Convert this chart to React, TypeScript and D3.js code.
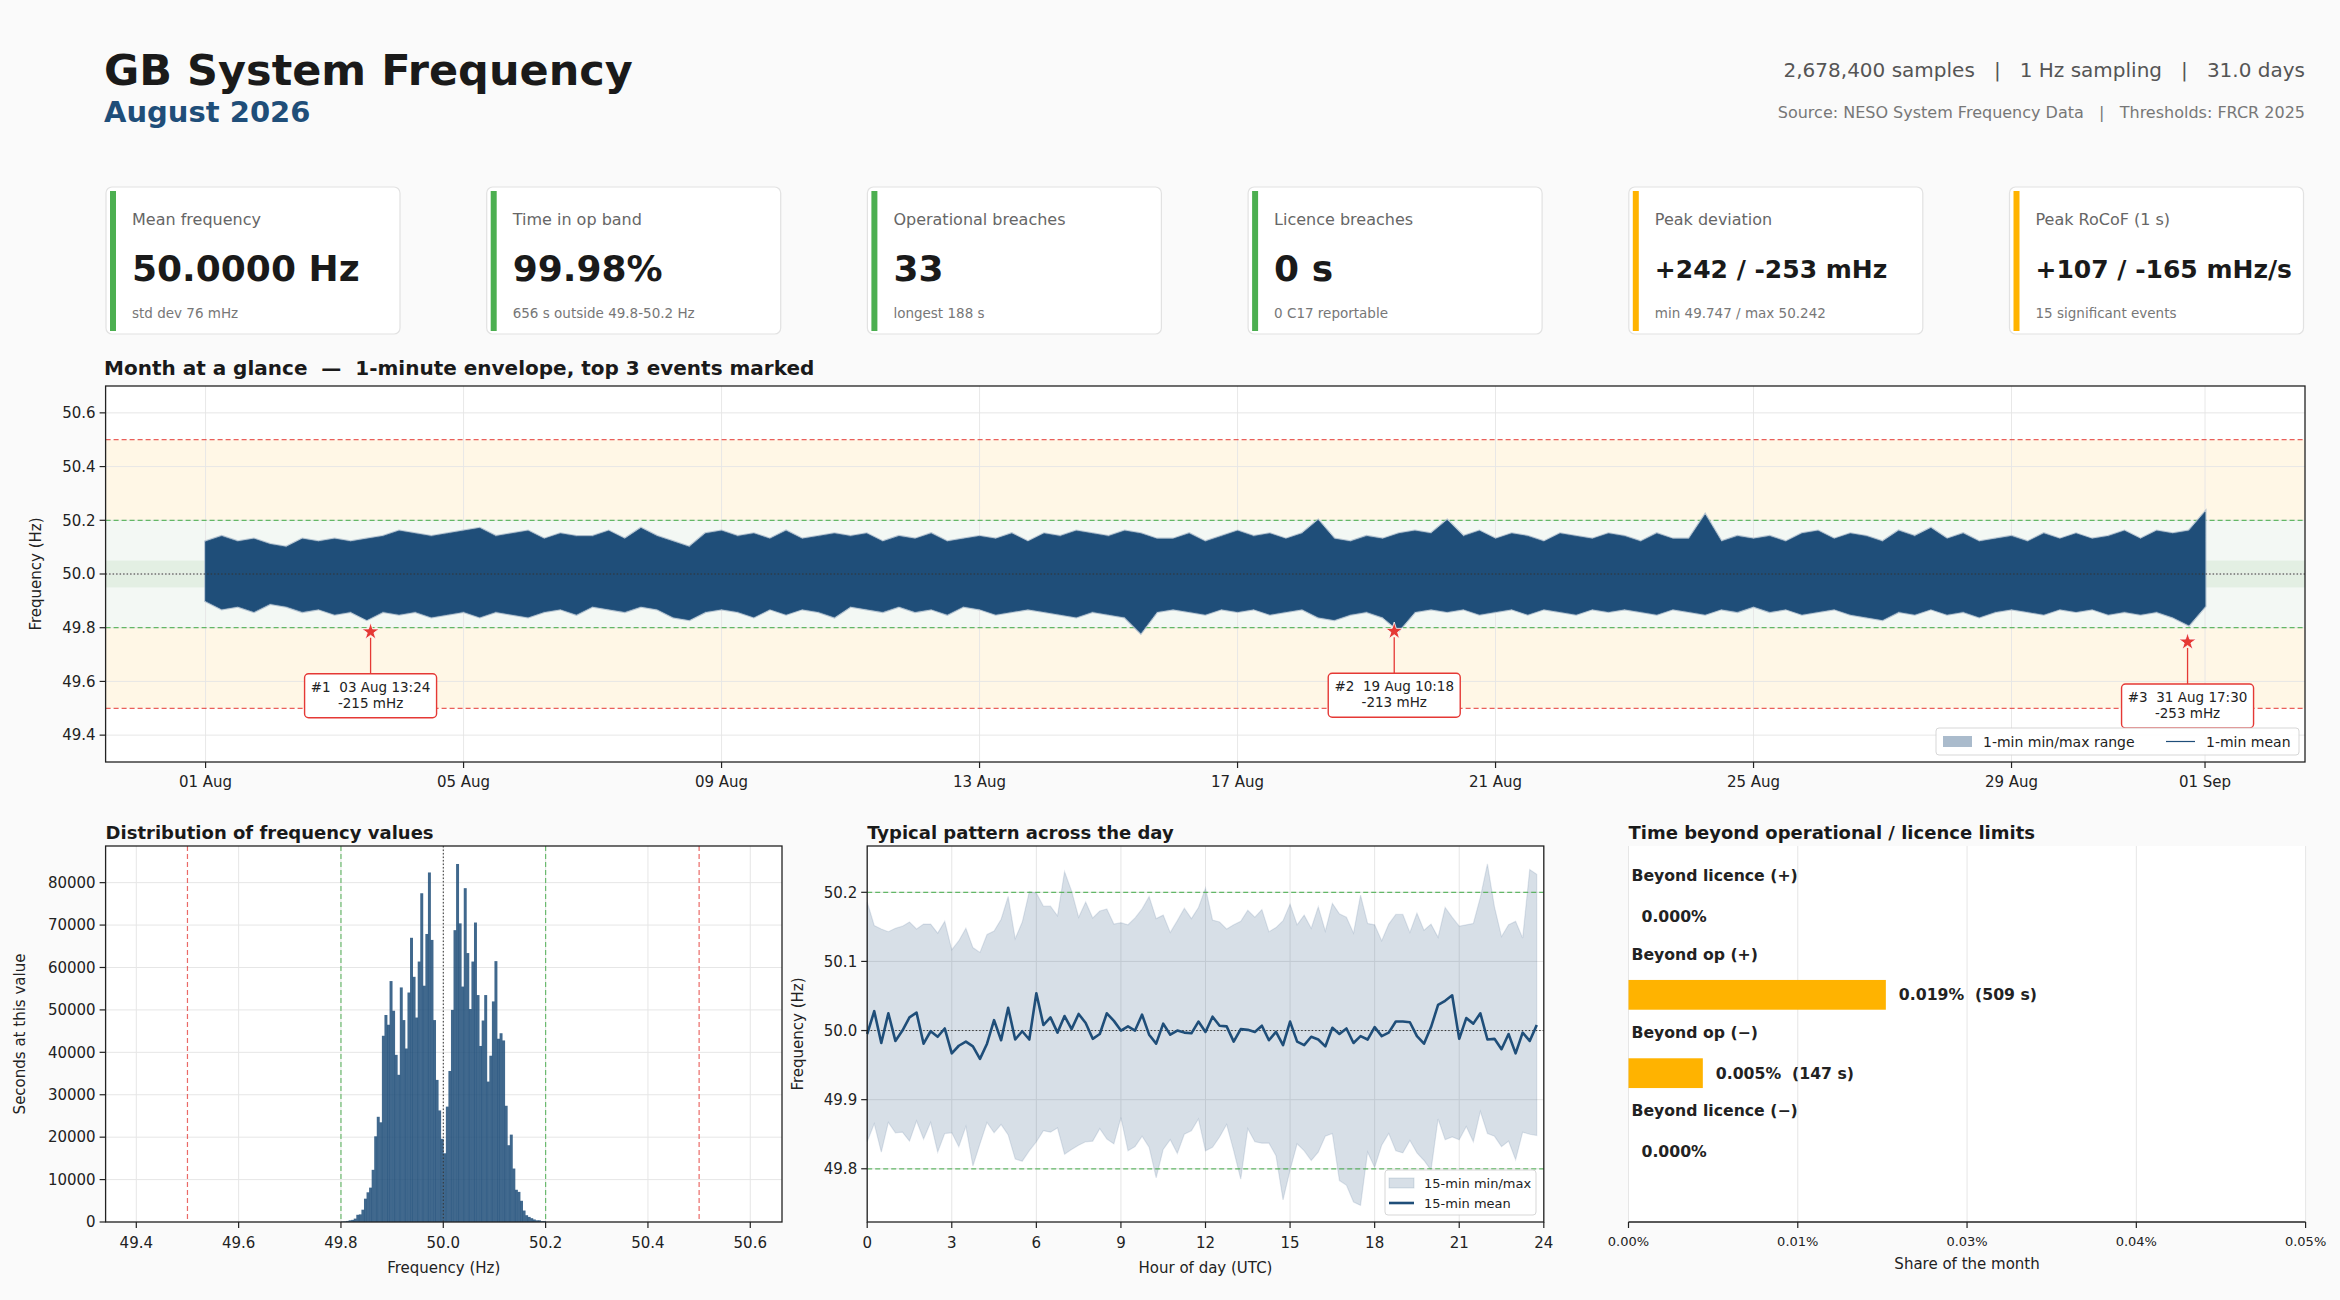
import React from "react";
import * as d3 from "d3";

const W = 2340;
const H = 1300;
const FONT = "DejaVu Sans, sans-serif";
const NAVY = "#1f4e79";
const RED = "#e53935";
const GREEN = "#4caf50";
const AMBER = "#ffb300";
const INK = "#222";
const GRID = "#e6e6e6";

// header
const titleText = "GB System Frequency";
const subtitleText = "August 2026";
const statsParts = ["2,678,400 samples", "1 Hz sampling", "31.0 days"];
const sourceParts = ["Source: NESO System Frequency Data", "Thresholds: FRCR 2025"];

// KPI cards
const kpiLabels = ["Mean frequency", "Time in op band", "Operational breaches", "Licence breaches", "Peak deviation", "Peak RoCoF (1 s)"];
const kpiValues = ["50.0000 Hz", "99.98%", "33", "0 s", "+242 / -253 mHz", "+107 / -165 mHz/s"];
const kpiSubs = ["std dev 76 mHz", "656 s outside 49.8-50.2 Hz", "longest 188 s", "0 C17 reportable", "min 49.747 / max 50.242", "15 significant events"];
const kpiStatus = ["ok", "ok", "ok", "ok", "warn", "warn"];

// month overview: 6-hourly envelope of the 1-min mean (Hz), from 01 Aug 00:00 to 01 Sep 00:00
const envHi = [
  50.12, 50.14, 50.12, 50.13, 50.11, 50.10, 50.13, 50.12, 50.13, 50.12, 50.13, 50.14,
  50.16, 50.15, 50.14, 50.15, 50.16, 50.17, 50.14, 50.15, 50.16, 50.13, 50.15, 50.14,
  50.14, 50.16, 50.13, 50.17, 50.14, 50.12, 50.10, 50.15, 50.16, 50.14, 50.15, 50.13,
  50.16, 50.13, 50.14, 50.15, 50.14, 50.15, 50.12, 50.14, 50.13, 50.15, 50.12, 50.13,
  50.14, 50.13, 50.15, 50.12, 50.15, 50.14, 50.16, 50.15, 50.14, 50.16, 50.15, 50.13,
  50.13, 50.15, 50.12, 50.14, 50.16, 50.14, 50.15, 50.13, 50.15, 50.20, 50.13, 50.12,
  50.14, 50.13, 50.15, 50.16, 50.15, 50.20, 50.14, 50.16, 50.13, 50.15, 50.14, 50.12,
  50.15, 50.14, 50.13, 50.15, 50.14, 50.12, 50.15, 50.13, 50.13, 50.22, 50.12, 50.14,
  50.13, 50.14, 50.12, 50.15, 50.16, 50.13, 50.15, 50.14, 50.12, 50.16, 50.14, 50.17,
  50.13, 50.15, 50.12, 50.13, 50.14, 50.12, 50.15, 50.13, 50.15, 50.13, 50.14, 50.16,
  50.13, 50.16, 50.15, 50.16, 50.23,
];
const envLo = [
  49.90, 49.87, 49.88, 49.86, 49.89, 49.88, 49.86, 49.87, 49.85, 49.86, 49.83, 49.86,
  49.85, 49.86, 49.84, 49.85, 49.86, 49.84, 49.86, 49.85, 49.84, 49.86, 49.87, 49.85,
  49.88, 49.87, 49.86, 49.88, 49.87, 49.84, 49.83, 49.86, 49.87, 49.86, 49.84, 49.87,
  49.85, 49.87, 49.86, 49.84, 49.88, 49.87, 49.86, 49.88, 49.86, 49.87, 49.85, 49.88,
  49.87, 49.85, 49.86, 49.87, 49.86, 49.85, 49.84, 49.86, 49.85, 49.84, 49.78, 49.86,
  49.87, 49.86, 49.85, 49.87, 49.86, 49.87, 49.85, 49.86, 49.87, 49.84, 49.83, 49.85,
  49.86, 49.84, 49.79, 49.86, 49.87, 49.86, 49.87, 49.85, 49.86, 49.87, 49.85, 49.87,
  49.86, 49.85, 49.87, 49.86, 49.87, 49.86, 49.85, 49.87, 49.86, 49.85, 49.87, 49.86,
  49.88, 49.86, 49.87, 49.85, 49.86, 49.87, 49.85, 49.84, 49.83, 49.86, 49.85, 49.87,
  49.85, 49.86, 49.84, 49.86, 49.87, 49.86, 49.85, 49.87, 49.86, 49.87, 49.85, 49.86,
  49.85, 49.86, 49.84, 49.81, 49.88,
];
const envStepDays = 0.25;
const xTickDays = [0, 4, 8, 12, 16, 20, 24, 28, 31];
const mainYTicks = [49.4, 49.6, 49.8, 50.0, 50.2, 50.4, 50.6];

// top events
const eventTimes = ["2026-08-03T13:24", "2026-08-19T10:18", "2026-08-31T17:30"];
const eventDevs = [-215, -213, -253];

// histogram: 5 mHz bins from 49.800 Hz
const histStart = 49.8;
const histWidth = 0.005;
const histCounts = [
  100, 150, 250, 400, 500, 800, 1700, 1800, 2900, 5500,
  7000, 8100, 12300, 20200, 24800, 23500, 43900, 48800, 46500, 56800,
  49800, 39400, 34700, 55300, 47600, 40900, 54100, 67000, 57800, 48200,
  61400, 77500, 55700, 67900, 82400, 66500, 47600, 33500, 26300, 19600,
  16200, 27200, 35600, 50000, 68800, 84400, 70400, 55500, 78700, 63400,
  50200, 61400, 70600, 53500, 41500, 47500, 53500, 33100, 39200, 52000,
  61500, 43200, 44500, 42800, 27400, 18100, 20600, 12600, 7600, 7100,
  5000, 2700, 1600, 1200, 900, 600, 400, 400, 200, 200,
];
const histXTicks = [49.4, 49.6, 49.8, 50.0, 50.2, 50.4, 50.6];
const histYTicks = [0, 10000, 20000, 30000, 40000, 50000, 60000, 70000, 80000];

// typical day: 15-min bins
const dayMean = [
  49.995, 50.028, 49.982, 50.025, 49.985, 50.0, 50.019, 50.026, 49.981, 49.999,
  49.991, 50.003, 49.967, 49.978, 49.984, 49.977, 49.959, 49.981, 50.015, 49.986,
  50.033, 49.987, 49.999, 49.987, 50.054, 50.008, 50.019, 49.997, 50.021, 50.002,
  50.024, 50.011, 49.988, 49.995, 50.025, 50.014, 50.0, 50.006, 50.0, 50.023,
  49.994, 49.981, 50.01, 49.994, 50.0, 49.997, 49.996, 50.013, 49.998, 50.02,
  50.007, 50.006, 49.984, 50.002, 50.001, 49.998, 50.007, 49.986, 49.998, 49.979,
  50.013, 49.984, 49.979, 49.991, 49.987, 49.977, 50.004, 49.995, 50.003, 49.982,
  49.992, 49.987, 50.005, 49.992, 49.997, 50.013, 50.013, 50.012, 49.992, 49.981,
  50.005, 50.037, 50.043, 50.051, 49.988, 50.018, 50.01, 50.025, 49.987, 49.988,
  49.973, 49.995, 49.967, 49.997, 49.985, 50.008,
];
const dayMax = [
  50.186, 50.152, 50.147, 50.143, 50.148, 50.151, 50.157, 50.147, 50.154, 50.154,
  50.141, 50.158, 50.117, 50.13, 50.148, 50.12, 50.113, 50.139, 50.144, 50.161,
  50.194, 50.133, 50.157, 50.201, 50.199, 50.18, 50.18, 50.166, 50.23, 50.202,
  50.164, 50.186, 50.163, 50.173, 50.176, 50.154, 50.156, 50.153, 50.163, 50.176,
  50.194, 50.162, 50.167, 50.142, 50.159, 50.177, 50.162, 50.178, 50.206, 50.16,
  50.157, 50.147, 50.153, 50.158, 50.174, 50.164, 50.175, 50.143, 50.149, 50.159,
  50.183, 50.153, 50.167, 50.148, 50.179, 50.144, 50.184, 50.169, 50.164, 50.141,
  50.196, 50.155, 50.153, 50.13, 50.154, 50.168, 50.168, 50.142, 50.17, 50.145,
  50.154, 50.135, 50.178, 50.164, 50.151, 50.153, 50.155, 50.193, 50.241, 50.179,
  50.136, 50.153, 50.158, 50.134, 50.233, 50.226,
];
const dayMin = [
  49.839, 49.865, 49.824, 49.867, 49.852, 49.853, 49.84, 49.869, 49.843, 49.867,
  49.824, 49.851, 49.852, 49.832, 49.861, 49.804, 49.836, 49.867, 49.852, 49.864,
  49.849, 49.814, 49.811, 49.826, 49.839, 49.855, 49.853, 49.859, 49.821, 49.828,
  49.834, 49.839, 49.84, 49.858, 49.843, 49.836, 49.874, 49.826, 49.832, 49.847,
  49.831, 49.787, 49.828, 49.842, 49.822, 49.85, 49.855, 49.872, 49.826, 49.831,
  49.846, 49.864, 49.826, 49.785, 49.858, 49.839, 49.837, 49.837, 49.819, 49.755,
  49.798, 49.836, 49.826, 49.812, 49.824, 49.847, 49.851, 49.783, 49.776, 49.752,
  49.747, 49.824, 49.802, 49.834, 49.851, 49.826, 49.823, 49.841, 49.823, 49.812,
  49.798, 49.872, 49.842, 49.846, 49.842, 49.861, 49.839, 49.883, 49.851, 49.847,
  49.832, 49.84, 49.813, 49.853, 49.85, 49.848,
];
const dayXTicks = [0, 3, 6, 9, 12, 15, 18, 21, 24];
const dayYTicks = [49.8, 49.9, 50.0, 50.1, 50.2];

// time beyond limits
const limitCats = ["Beyond licence (+)", "Beyond op (+)", "Beyond op (\u2212)", "Beyond licence (\u2212)"];
const limitSeconds = [0, 509, 147, 0];
const totalSeconds = 2678400;
const limitXTicks = [0, 0.0125, 0.025, 0.0375, 0.05];

const txt = (size: number, weight = "normal", fill = INK) => ({
  fontFamily: FONT,
  fontSize: size,
  fontWeight: weight as any,
  fill,
});
const pre = { whiteSpace: "pre" as const };

function Header() {
  const sep = "   |   ";
  return (
    <g>
      <text x={104} y={85} {...txt(43, "bold", "#1a1a1a")}>{titleText}</text>
      <text x={104} y={122} {...txt(29, "bold", NAVY)}>{subtitleText}</text>
      <text x={2305} y={77} textAnchor="end" style={pre} {...txt(20, "normal", "#555")}>
        {statsParts.join(sep)}
      </text>
      <text x={2305} y={118} textAnchor="end" style={pre} {...txt(16, "normal", "#777")}>
        {sourceParts.join(sep)}
      </text>
    </g>
  );
}

function KpiCards() {
  const cardW = 294;
  const step = 380.7;
  return (
    <g>
      {kpiLabels.map((lab, i) => {
        const x0 = 106 + i * step;
        const col = kpiStatus[i] === "ok" ? GREEN : AMBER;
        const v = kpiValues[i];
        const long = v.length > 10;
        return (
          <g key={lab}>
            <rect x={x0} y={187} width={cardW} height={147} rx={6} fill="#fff" stroke="#e2e2e2" strokeWidth={1.2} />
            <rect x={x0 + 4} y={191} width={6} height={140} fill={col} />
            <text x={x0 + 26} y={225} {...txt(16, "normal", "#666")}>{lab}</text>
            <text x={x0 + 26} y={long ? 278 : 281} {...txt(long ? 25 : 36, "bold", "#1a1a1a")}>{v}</text>
            <text x={x0 + 26} y={318} {...txt(13.5, "normal", "#777")}>{kpiSubs[i]}</text>
          </g>
        );
      })}
    </g>
  );
}

function MainPlot() {
  const L = 105.6, R = 2305, T = 386, B = 762;
  const x = d3.scaleLinear().domain([-1.55, 32.55]).range([L, R]);
  const y = d3.scaleLinear().domain([49.3, 50.7]).range([B, T]);
  const base = Date.UTC(2026, 7, 1);
  const fmtTick = d3.utcFormat("%d %b");
  const fmtEvent = d3.utcFormat("%d %b %H:%M");
  const parse = d3.utcParse("%Y-%m-%dT%H:%M");
  const pts = envHi.map((hi, i) => ({ d: i * envStepDays, hi, lo: envLo[i] }));
  const area = d3
    .area<{ d: number; hi: number; lo: number }>()
    .x((p) => x(p.d))
    .y0((p) => y(p.lo))
    .y1((p) => y(p.hi));
  const band = (a: number, b: number, fill: string) => (
    <rect x={L} width={R - L} y={y(b)} height={y(a) - y(b)} fill={fill} />
  );
  const star = d3.symbol().type(d3.symbolStar).size(95)() as string;
  return (
    <g>
      <text x={104} y={375} style={pre} {...txt(20, "bold", "#1a1a1a")}>
        {"Month at a glance  \u2014  1-minute envelope, top 3 events marked"}
      </text>
      <defs>
        <clipPath id="mainclip">
          <rect x={L} y={T} width={R - L} height={B - T} />
        </clipPath>
      </defs>
      <rect x={L} y={T} width={R - L} height={B - T} fill="#fff" />
      {band(49.5, 50.5, "#fff7e6")}
      {band(49.8, 50.2, "#f3f8f4")}
      {band(49.95, 50.05, "#e3efe3")}
      {mainYTicks.map((t) => (
        <line key={t} x1={L} x2={R} y1={y(t)} y2={y(t)} stroke={GRID} strokeWidth={1} opacity={0.9} />
      ))}
      {xTickDays.map((t) => (
        <line key={t} x1={x(t)} x2={x(t)} y1={T} y2={B} stroke={GRID} strokeWidth={1} opacity={0.9} />
      ))}
      {[50.5, 49.5].map((v) => (
        <line key={v} x1={L} x2={R} y1={y(v)} y2={y(v)} stroke={RED} strokeWidth={1.2} strokeDasharray="5,3" opacity={0.8} />
      ))}
      {[50.2, 49.8].map((v) => (
        <line key={v} x1={L} x2={R} y1={y(v)} y2={y(v)} stroke={GREEN} strokeWidth={1.2} strokeDasharray="5,3" opacity={0.85} />
      ))}
      <g clipPath="url(#mainclip)">
        <path d={area(pts) || ""} fill="#aabbcc" stroke="#aabbcc" strokeWidth={3} opacity={0.8} />
        <path d={area(pts) || ""} fill={NAVY} stroke={NAVY} strokeWidth={0.8} />
      </g>
      <line x1={L} x2={R} y1={y(50)} y2={y(50)} stroke="#333" strokeWidth={1} strokeDasharray="1.5,2" />
      {eventTimes.map((s, i) => {
        const t = parse(s) as Date;
        const d = (t.getTime() - base) / 86400000;
        const v = 50 + eventDevs[i] / 1000;
        const cx = x(d);
        const cy = y(v);
        const by = cy + 64;
        const bw = 132, bh = 44;
        return (
          <g key={s}>
            <line x1={cx} x2={cx} y1={cy + 6} y2={by - bh / 2} stroke={RED} strokeWidth={1.3} />
            <path d={star} transform={`translate(${cx},${cy})`} fill={RED} stroke="#fff" strokeWidth={0.8} />
            <rect x={cx - bw / 2} y={by - bh / 2} width={bw} height={bh} rx={4} fill="#fff" stroke={RED} strokeWidth={1.4} />
            <text x={cx} y={by - 4} textAnchor="middle" style={pre} {...txt(13.5, "normal", "#222")}>
              {`#${i + 1}  ${fmtEvent(t)}`}
            </text>
            <text x={cx} y={by + 12} textAnchor="middle" {...txt(13.5, "normal", "#222")}>
              {`${eventDevs[i]} mHz`}
            </text>
          </g>
        );
      })}
      <g>
        <rect x={1936} y={728} width={363} height={27} rx={3} fill="#fff" stroke="#d5d5d5" opacity={0.95} />
        <rect x={1943} y={736} width={29} height={11} fill="#aabbcc" />
        <text x={1983} y={747} {...txt(14, "normal", "#222")}>1-min min/max range</text>
        <line x1={2166} x2={2195} y1={741.5} y2={741.5} stroke={NAVY} strokeWidth={1.2} />
        <text x={2206} y={747} {...txt(14, "normal", "#222")}>1-min mean</text>
      </g>
      <rect x={L} y={T} width={R - L} height={B - T} fill="none" stroke={INK} strokeWidth={1.3} />
      {mainYTicks.map((t) => (
        <g key={t}>
          <line x1={L - 6} x2={L} y1={y(t)} y2={y(t)} stroke={INK} strokeWidth={1.2} />
          <text x={L - 10} y={y(t)} dy="0.35em" textAnchor="end" {...txt(15)}>{d3.format(".1f")(t)}</text>
        </g>
      ))}
      {xTickDays.map((t) => (
        <g key={t}>
          <line x1={x(t)} x2={x(t)} y1={B} y2={B + 6} stroke={INK} strokeWidth={1.2} />
          <text x={x(t)} y={B + 25} textAnchor="middle" {...txt(15)}>{fmtTick(new Date(base + t * 86400000))}</text>
        </g>
      ))}
      <text transform={`translate(36,${(T + B) / 2}) rotate(-90)`} dy="0.35em" textAnchor="middle" {...txt(15)}>
        Frequency (Hz)
      </text>
    </g>
  );
}

function HistPlot() {
  const L = 105.6, R = 782, T = 846, B = 1222;
  const x = d3.scaleLinear().domain([49.34, 50.662]).range([L, R]);
  const y = d3.scaleLinear().domain([0, 88640]).range([B, T]);
  return (
    <g>
      <text x={L} y={839} {...txt(18, "bold", "#1a1a1a")}>Distribution of frequency values</text>
      <rect x={L} y={T} width={R - L} height={B - T} fill="#fff" />
      {histYTicks.map((t) => (
        <line key={t} x1={L} x2={R} y1={y(t)} y2={y(t)} stroke={GRID} />
      ))}
      {histXTicks.map((t) => (
        <line key={t} x1={x(t)} x2={x(t)} y1={T} y2={B} stroke={GRID} />
      ))}
      {histCounts.map((c, i) => {
        const a = histStart + i * histWidth;
        return (
          <rect key={i} x={x(a)} width={x(a + histWidth) - x(a) + 0.4} y={y(c)} height={B - y(c)} fill={NAVY} opacity={0.85} />
        );
      })}
      {[49.5, 50.5].map((v) => (
        <line key={v} x1={x(v)} x2={x(v)} y1={T} y2={B} stroke={RED} strokeWidth={1.2} strokeDasharray="5,3" opacity={0.75} />
      ))}
      {[49.8, 50.2].map((v) => (
        <line key={v} x1={x(v)} x2={x(v)} y1={T} y2={B} stroke={GREEN} strokeWidth={1.2} strokeDasharray="5,3" opacity={0.8} />
      ))}
      <line x1={x(50)} x2={x(50)} y1={T} y2={B} stroke="#333" strokeWidth={1} strokeDasharray="1.5,2" />
      <rect x={L} y={T} width={R - L} height={B - T} fill="none" stroke={INK} strokeWidth={1.3} />
      {histYTicks.map((t) => (
        <g key={t}>
          <line x1={L - 6} x2={L} y1={y(t)} y2={y(t)} stroke={INK} strokeWidth={1.2} />
          <text x={L - 10} y={y(t)} dy="0.35em" textAnchor="end" {...txt(15)}>{t}</text>
        </g>
      ))}
      {histXTicks.map((t) => (
        <g key={t}>
          <line x1={x(t)} x2={x(t)} y1={B} y2={B + 6} stroke={INK} strokeWidth={1.2} />
          <text x={x(t)} y={B + 26} textAnchor="middle" {...txt(15)}>{d3.format(".1f")(t)}</text>
        </g>
      ))}
      <text x={(L + R) / 2} y={B + 51} textAnchor="middle" {...txt(15)}>Frequency (Hz)</text>
      <text transform={`translate(20,${(T + B) / 2}) rotate(-90)`} dy="0.35em" textAnchor="middle" {...txt(15)}>
        Seconds at this value
      </text>
    </g>
  );
}

function DayPlot() {
  const L = 867.2, R = 1543.8, T = 846, B = 1222;
  const x = d3.scaleLinear().domain([0, 24]).range([L, R]);
  const y = d3.scaleLinear().domain([49.723, 50.267]).range([B, T]);
  const idx = dayMean.map((_, i) => i);
  const hour = (i: number) => i * 0.25;
  const area = d3
    .area<number>()
    .x((i) => x(hour(i)))
    .y0((i) => y(dayMin[i]))
    .y1((i) => y(dayMax[i]));
  const line = d3
    .line<number>()
    .x((i) => x(hour(i)))
    .y((i) => y(dayMean[i]));
  return (
    <g>
      <text x={L} y={839} {...txt(18, "bold", "#1a1a1a")}>Typical pattern across the day</text>
      <rect x={L} y={T} width={R - L} height={B - T} fill="#fff" />
      {dayYTicks.map((t) => (
        <line key={t} x1={L} x2={R} y1={y(t)} y2={y(t)} stroke={GRID} />
      ))}
      {dayXTicks.map((t) => (
        <line key={t} x1={x(t)} x2={x(t)} y1={T} y2={B} stroke={GRID} />
      ))}
      <path d={area(idx) || ""} fill={NAVY} fillOpacity={0.18} stroke={NAVY} strokeOpacity={0.12} strokeWidth={1.2} />
      {[50.2, 49.8].map((v) => (
        <line key={v} x1={L} x2={R} y1={y(v)} y2={y(v)} stroke={GREEN} strokeWidth={1.2} strokeDasharray="5,3" opacity={0.85} />
      ))}
      <line x1={L} x2={R} y1={y(50)} y2={y(50)} stroke="#333" strokeWidth={1} strokeDasharray="1.5,2" />
      <path d={line(idx) || ""} fill="none" stroke={NAVY} strokeWidth={2.6} strokeLinejoin="round" />
      <g>
        <rect x={1385} y={1170} width={151} height={45} rx={3} fill="#fff" stroke="#d5d5d5" opacity={0.95} />
        <rect x={1389} y={1178} width={25} height={10} fill={NAVY} fillOpacity={0.18} stroke={NAVY} strokeOpacity={0.15} />
        <text x={1424} y={1188} {...txt(13, "normal", "#222")}>15-min min/max</text>
        <line x1={1389} x2={1414} y1={1203} y2={1203} stroke={NAVY} strokeWidth={2.6} />
        <text x={1424} y={1208} {...txt(13, "normal", "#222")}>15-min mean</text>
      </g>
      <rect x={L} y={T} width={R - L} height={B - T} fill="none" stroke={INK} strokeWidth={1.3} />
      {dayYTicks.map((t) => (
        <g key={t}>
          <line x1={L - 6} x2={L} y1={y(t)} y2={y(t)} stroke={INK} strokeWidth={1.2} />
          <text x={L - 10} y={y(t)} dy="0.35em" textAnchor="end" {...txt(15)}>{d3.format(".1f")(t)}</text>
        </g>
      ))}
      {dayXTicks.map((t) => (
        <g key={t}>
          <line x1={x(t)} x2={x(t)} y1={B} y2={B + 6} stroke={INK} strokeWidth={1.2} />
          <text x={x(t)} y={B + 26} textAnchor="middle" {...txt(15)}>{t}</text>
        </g>
      ))}
      <text x={(L + R) / 2} y={B + 51} textAnchor="middle" {...txt(15)}>Hour of day (UTC)</text>
      <text transform={`translate(798,${(T + B) / 2}) rotate(-90)`} dy="0.35em" textAnchor="middle" {...txt(15)}>
        Frequency (Hz)
      </text>
    </g>
  );
}

function LimitsPlot() {
  const L = 1628.5, R = 2305.6, T = 846, B = 1222;
  const x = d3.scaleLinear().domain([0, 0.05]).range([L, R]);
  const y = d3.scaleLinear().domain([-0.9, 3.9]).range([T, B]);
  const band = y(1) - y(0);
  const barH = band * 0.38;
  const pct = (s: number) => (s / totalSeconds) * 100;
  return (
    <g>
      <text x={L} y={839} {...txt(18, "bold", "#1a1a1a")}>Time beyond operational / licence limits</text>
      <rect x={L} y={T} width={R - L} height={B - T} fill="#fff" />
      {limitXTicks.map((t) => (
        <line key={t} x1={x(t)} x2={x(t)} y1={T} y2={B} stroke={GRID} />
      ))}
      {limitCats.map((c, i) => {
        const s = limitSeconds[i];
        const p = pct(s);
        const cy = y(i);
        const label = s > 0 ? `${d3.format(".3f")(p)}%  (${s} s)` : `${d3.format(".3f")(p)}%`;
        return (
          <g key={c}>
            <text x={L + 3} y={cy - band * 0.52} dy="0.35em" {...txt(15.7, "bold", "#222")}>{c}</text>
            {s > 0 && <rect x={x(0)} y={cy - barH / 2} width={x(p) - x(0)} height={barH} fill={AMBER} />}
            <text x={x(p) + 13} y={cy} dy="0.35em" style={pre} {...txt(15.7, "bold", "#222")}>
              {label}
            </text>
          </g>
        );
      })}
      <line x1={L} x2={R} y1={B} y2={B} stroke={INK} strokeWidth={1.3} />
      {limitXTicks.map((t) => (
        <g key={t}>
          <line x1={x(t)} x2={x(t)} y1={B} y2={B + 6} stroke={INK} strokeWidth={1.2} />
          <text x={x(t)} y={B + 24} textAnchor="middle" {...txt(13)}>{d3.format(".2f")(t)}%</text>
        </g>
      ))}
      <text x={(L + R) / 2} y={B + 47} textAnchor="middle" {...txt(15)}>Share of the month</text>
    </g>
  );
}

export default function App() {
  return (
    <svg
      width={W}
      height={H}
      viewBox={`0 0 ${W} ${H}`}
      style={{ position: "absolute", left: 0, top: 0, display: "block", background: "#fafafa" }}
    >
      <rect x={0} y={0} width={W} height={H} fill="#fafafa" />
      <Header />
      <KpiCards />
      <MainPlot />
      <HistPlot />
      <DayPlot />
      <LimitsPlot />
    </svg>
  );
}
